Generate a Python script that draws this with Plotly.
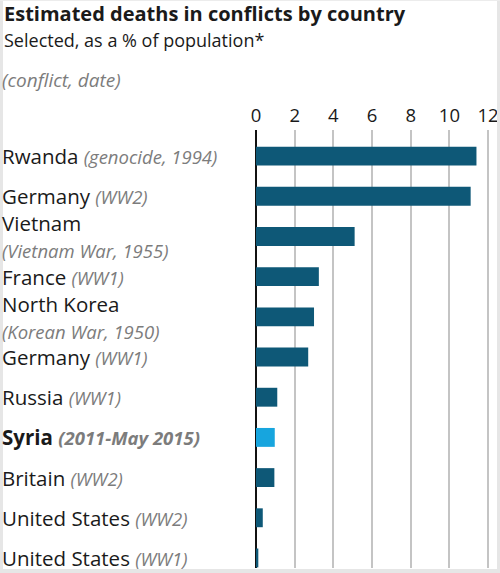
import plotly.graph_objects as go

countries = ["Rwanda", "Germany", "Vietnam", "France", "North Korea", "Germany",
             "Russia", "Syria", "Britain", "United States", "United States"]
conflicts = ["(genocide, 1994)", "(WW2)", "(Vietnam War, 1955)", "(WW1)", "(Korean War, 1950)",
             "(WW1)", "(WW1)", "(2011-May 2015)", "(WW2)", "(WW2)", "(WW1)"]
two_line = [False, False, True, False, True, False, False, False, False, False, False]
values = [11.4, 11.1, 5.1, 3.25, 3.0, 2.7, 1.1, 0.97, 0.95, 0.35, 0.12]
highlight = [False, False, False, False, False, False, False, True, False, False, False]
ticks = [0, 2, 4, 6, 8, 10, 12]

W, H = 500, 573
DARK = "#0e5877"
LIGHT = "#17a5de"
TXT = "#1a1a1a"
GREY_TXT = "#7c7c7c"
FONT = "Open Sans"

def py(pix):
    return (H - pix) / H

def px(pix):
    return pix / W

positions = list(range(len(countries)))
colors = [LIGHT if h else DARK for h in highlight]

fig = go.Figure()
fig.add_trace(go.Bar(
    x=values, y=positions, orientation="h", marker=dict(color=colors, line=dict(width=0)),
    width=0.47, hoverinfo="skip",
))

annotations = []
for i, (c, cf, tl, h) in enumerate(zip(countries, conflicts, two_line, highlight)):
    ital = f'<span style="font-size:18.5px;color:{GREY_TXT}"><i>{cf}</i></span>'
    base = dict(x=px(1), xref="paper", yref="y", y=i, showarrow=False, borderpad=0,
                xanchor="left", yanchor="middle", align="left",
                font=dict(family=FONT, size=20.5, color=TXT))
    if h:
        text = f"<b>{c}</b> <b>{ital}</b>"
    elif tl:
        text = f"{c}<br>{ital}"
    else:
        text = f"{c} {ital}"
    annotations.append(dict(base, text=text))

annotations += [
    dict(x=px(3), y=py(-1), xref="paper", yref="paper", xanchor="left", yanchor="top",
         text="<b>Estimated deaths in conflicts by country</b>", showarrow=False, borderpad=0,
         font=dict(family=FONT, size=20, color=TXT)),
    dict(x=px(3), y=py(27), xref="paper", yref="paper", xanchor="left", yanchor="top",
         text="Selected, as a % of population*", showarrow=False, borderpad=0,
         font=dict(family=FONT, size=18, color=TXT)),
    dict(x=px(1), y=py(66), xref="paper", yref="paper", xanchor="left", yanchor="top",
         text="<i>(conflict, date)</i>", showarrow=False, borderpad=0,
         font=dict(family=FONT, size=19, color=GREY_TXT)),
]

shapes = [
    dict(type="rect", xref="paper", yref="paper", x0=0, x1=px(3), y0=0, y1=1,
         fillcolor="#e6e6e6", line=dict(width=0), layer="above"),
    dict(type="rect", xref="paper", yref="paper", x0=px(497), x1=1, y0=0, y1=1,
         fillcolor="#e6e6e6", line=dict(width=0), layer="above"),
    dict(type="rect", xref="paper", yref="paper", x0=0, x1=1, y0=0, y1=py(569),
         fillcolor="#e6e6e6", line=dict(width=0), layer="above"),
    dict(type="rect", xref="paper", yref="paper", x0=0, x1=1, y0=py(1), y1=1,
         fillcolor="#ececec", line=dict(width=0), layer="above"),
]

fig.update_layout(
    width=W, height=H, margin=dict(l=0, r=0, t=0, b=0, autoexpand=False),
    paper_bgcolor="white", plot_bgcolor="white", showlegend=False,
    annotations=annotations, shapes=shapes,
    xaxis=dict(domain=[px(256), px(490)], range=[0, 12.1], side="top", automargin=False,
               tickvals=ticks, ticktext=[str(t) for t in ticks],
               showgrid=True, gridcolor="#c4c4c4", gridwidth=2,
               zeroline=True, zerolinecolor="#111111", zerolinewidth=1.5,
               showline=False, ticks="", ticklabelstandoff=3,
               tickfont=dict(family=FONT, size=18.5, color=TXT), fixedrange=True),
    yaxis=dict(domain=[py(568), py(130)], range=[10.25, -0.65], showgrid=False, automargin=False,
               zeroline=False, showticklabels=False, ticks="", fixedrange=True),
)

fig.write_html("out.html")
